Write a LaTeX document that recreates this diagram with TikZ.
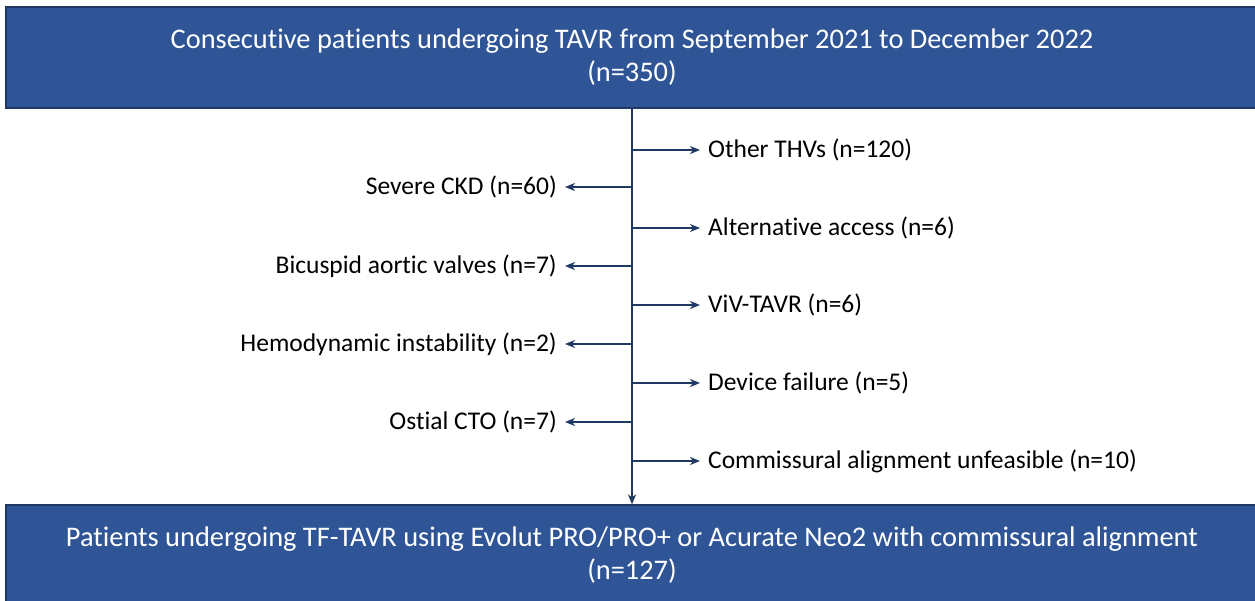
\documentclass[tikz,border=0pt]{standalone}
\usepackage{fontspec}
\setmainfont{Carlito}[Ligatures={NoCommon,NoRare}]
\usetikzlibrary{arrows.meta, positioning}
\definecolor{boxblue}{HTML}{2F5597}
\definecolor{boxedge}{HTML}{1F3864}
\definecolor{linenavy}{HTML}{1F3864}

\begin{document}
\begin{tikzpicture}[
    x=1pt, y=1pt,
    stagebox/.style={
        rectangle,
        draw=boxedge,
        line width=1.2pt,
        fill=boxblue,
        text=white,
        align=center,
        minimum width=1252pt,
        font=\fontsize{28.4}{33}\selectfont
    },
    excl/.style={
        font=\fontsize{25.5}{30}\selectfont,
        inner sep=2pt
    },
    arrow/.style={
        -{Stealth[length=10pt, width=8pt, inset=3pt]},
        line width=1.8pt,
        color=linenavy
    },
    branch/.style={
        arrow,
        shorten >=6pt
    }
]
\useasboundingbox (0,0) rectangle (1255,-601);

% top and bottom boxes
\node[stagebox, minimum height=101pt] (start) at (632,-57.5)
    {Consecutive patients undergoing TAVR from September 2021 to December 2022\\(n=350)};
\node[stagebox, minimum height=100pt] (final) at (632,-555)
    {Patients undergoing TF-TAVR using Evolut PRO/PRO+ or Acurate Neo2 with commissural alignment\\(n=127)};

% main trunk
\draw[arrow, line width=2.2pt] (start.south) -- (final.north);

% exclusions to the right
\coordinate (r1) at (632,-150);
\coordinate (r2) at (632,-228);
\coordinate (r3) at (632,-305);
\coordinate (r4) at (632,-383);
\coordinate (r5) at (632,-461);
\node[excl, anchor=west] (thv)    at (706,-150) {Other THVs (n=120)};
\node[excl, anchor=west] (access) at (706,-228) {Alternative access (n=6)};
\node[excl, anchor=west] (viv)    at (706,-305) {ViV-TAVR (n=6)};
\node[excl, anchor=west] (device) at (706,-383) {Device failure (n=5)};
\node[excl, anchor=west] (commis) at (706,-461) {Commissural alignment unfeasible (n=10)};

% exclusions to the left
\coordinate (l1) at (632,-187);
\coordinate (l2) at (632,-266);
\coordinate (l3) at (632,-344);
\coordinate (l4) at (632,-422);
\node[excl, anchor=east] (ckd)      at (559,-187) {Severe CKD (n=60)};
\node[excl, anchor=east] (bicuspid) at (559,-266) {Bicuspid aortic valves (n=7)};
\node[excl, anchor=east] (hemo)     at (559,-344) {Hemodynamic instability (n=2)};
\node[excl, anchor=east] (cto)      at (559,-422) {Ostial CTO (n=7)};

\draw[branch] (r1) -- (thv.west);
\draw[branch] (r2) -- (access.west);
\draw[branch] (r3) -- (viv.west);
\draw[branch] (r4) -- (device.west);
\draw[branch] (r5) -- (commis.west);

\draw[branch] (l1) -- (ckd.east);
\draw[branch] (l2) -- (bicuspid.east);
\draw[branch] (l3) -- (hemo.east);
\draw[branch] (l4) -- (cto.east);

\end{tikzpicture}
\end{document}
